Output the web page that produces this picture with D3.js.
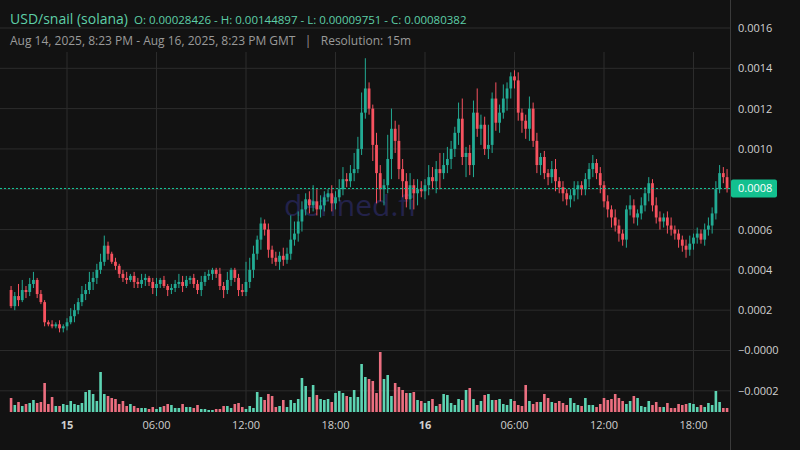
<!DOCTYPE html>
<html><head><meta charset="utf-8">
<script src="https://cdn.jsdelivr.net/npm/d3@7"></script>
<style>body{margin:0;background:#121212;}svg{display:block;font-family:"Open Sans",sans-serif;}</style>
</head><body><svg id="c" width="800" height="450"></svg>
<script>
// prices in units of 1e-5
const closes=[22,27,25,30,29,33,35,28, 24,14,13, 12,13,11,12,14, 17,20,24,28,30,34,36,40,44, 52,48,44,42,
38,36,35,37,34,33,35,36,34,31,33,35, 32,30,31,33,34,32,35,36,33,30, 34,37,38,40,38,32,30,35, 40,36,30,29,
34,40,48,55,63,60, 50,46,44,47,45,48, 55,58,64,70,75,72, 74,70,72,76,78,73,76,80, 85,84,88,90,100,118,130,
120,102,88,80, 82,95,110,104,90,84, 75,82,78,80,79, 82,86,84,90,88,92,95, 100,108,115,96,98,92,
118,110,112,100,102,125,113,118, 125,130,136,134,118,114, 110,120,104,92,96,88, 86,90,84,81,
78,75,77,80,82,80, 85,90,93,88,82, 74,70,66,62,58, 55,70,72,66,68, 72,78,83,72,66, 64,66,62,60,58,
55,52,50,53,56, 58,55,60,62,68, 80,88,86,80.382];
const firstOpen=30;
const wickUp=[2,2,6,5,2,3,4,1,2,1, 1,2,1,2,1,2,4,3,2,4, 3,5,3,3,4,5,2,1,2,1, 2,3,1,2,2,3,2,1,2,3, 1,2,1,2,2,4,3,2,1,2,
2,3,2,2,1,1,3,2,4,1, 1,2,3,10,6,4,2,3,2,3, 2,3,2,4,3,12,6,5,4,3, 4,8,6,5,3,2,4,3,5,6, 3,4,8,6,10,15,3,2,6,4,
3,12,10,4,8,5,4,6,3,5, 4,3,6,5,4,8,6,6,4,3, 8,10,3,4,6,12,5,4,10,3, 8,4,7,3,2,3,4,2,3,6, 3,4,2,3,2,4,5,2,3,2,
3,4,2,2,3,3,4,2,3,2, 3,2,4,3,2,2,5,3,2,4, 3,3,2,4,3,2,3,4,2,2, 2,3,4,2,3,2,3,4,3,4, 4,3,4];
const wickDn=[1,2,3,1,3,2,2,2,1,2, 1,1,1,2,2,2,1,3,2,2, 3,2,4,3,2,2,3,1,2,2, 2,2,1,3,2,2,3,2,3,4, 2,1,3,2,2,2,3,1,2,2,
2,3,2,2,3,2,2,4,2,3, 2,3,2,2,3,4,3,5,3,4, 3,2,4,3,2,3,3,4,5,3, 4,3,3,4,3,2,4,3,2,3, 3,3,4,2,3,3,3,8,15,6,
8,4,10,6,5,8,4,5,8,6, 3,4,5,4,6,8,3,4,5,4, 6,4,10,5,6,4,8,3,5,4, 4,5,3,6,5,4,4,6,5,6, 3,4,5,3,4,3,5,3,4,3,
4,3,5,3,3,4,4,3,4,3, 4,5,3,4,3,4,3,3,4,3, 3,4,3,3,4,3,4,3,3,4, 3,4,3,3,3,2,3,3,4,3, 2,3,2];
const volumes=[14,7,10,6,8,9,12,9,10,29, 8,15,6,6,8,7,11,8,7,9, 20,22,18,11,40,18,16,14,13,8, 11,6,8,6,4,4,4,3,5,3,
5,6,8,7,4,4,8,5,5,4, 7,3,3,2,2,3,3,6,6,4, 8,9,5,3,6,4,20,15,12,18, 16,5,6,12,5,12,9,13,34,26,
15,27,17,13,12,13,10,19,21,19, 16,15,22,15,48,35,33,31,19,60, 33,37,16,29,25,
22,19,19,20,12,11,9, 11,13,6,8,18,17,9,7,13,12, 22,24,13,7,11,17,18,12,12,13, 8,7,13,11,7,6,27,11,8,10,
10,18,14,10,9,11,9,7,14,9, 7,6,14,7,7,5,8,14,12,13, 18,14,11,8,11,16,14,6,5,11, 7,10,5,5,9,4,4,8,7,8, 9,8,5,7,5,9,7,21,10,4,4];
const priceTicks=[160,140,120,100,80,60,40,20,0,-20];
const priceTickLabels=["0.0016","0.0014","0.0012","0.0010","0.0008","0.0006","0.0004","0.0002","\u22120.0000","\u22120.0002"];
const timeTicks=["2025-08-15T00:00","2025-08-15T06:00","2025-08-15T12:00","2025-08-15T18:00","2025-08-16T00:00","2025-08-16T06:00","2025-08-16T12:00","2025-08-16T18:00"];
const timeTickLabels=["15","06:00","12:00","18:00","16","06:00","12:00","18:00"];

const svg=d3.select("#c");
const W=730, volBase=412;
svg.append("rect").attr("width",800).attr("height",450).attr("fill","#121212");
const x=d3.scaleTime().domain([new Date("2025-08-15T00:00"),new Date("2025-08-16T00:00")]).range([67,425]);
const y=d3.scaleLinear().domain([-20,160]).range([390.8,28]);
const v=d3.scaleLinear().domain([0,60]).range([volBase,volBase-60]);
const t0=new Date("2025-08-14T20:15");
const data=closes.map((c,i)=>{const o=i?closes[i-1]:firstOpen;return{t:new Date(+t0+i*9e5),o,c,h:Math.max(o,c)+(wickUp[i]??2),l:Math.min(o,c)-(wickDn[i]??2),vol:volumes[i]??5};});
const green="#22ab94",red="#f7525f";

const g=svg.append("g");
priceTicks.forEach(p=>g.append("line").attr("x1",0).attr("x2",W).attr("y1",y(p)).attr("y2",y(p)).attr("stroke","#2c2c2c"));
timeTicks.forEach(t=>g.append("line").attr("x1",x(new Date(t))).attr("x2",x(new Date(t))).attr("y1",52).attr("y2",volBase).attr("stroke","#2c2c2c"));
svg.append("line").attr("x1",W+0.5).attr("x2",W+0.5).attr("y1",0).attr("y2",450).attr("stroke","#3a3a3a");

svg.append("text").attr("x",350).attr("y",216).attr("text-anchor","middle").attr("font-size",30).attr("fill","#23224a").text("defined.fi");

svg.append("g").selectAll("rect").data(data).join("rect")
 .attr("x",d=>x(d.t)-1.3).attr("width",2.6).attr("y",d=>v(d.vol)).attr("height",d=>volBase-v(d.vol))
 .attr("fill",d=>d.c>=d.o?"#5dd4b3":"#ec6f80");

const cg=svg.append("g").selectAll("g").data(data).join("g");
cg.append("line").attr("x1",d=>x(d.t)).attr("x2",d=>x(d.t)).attr("y1",d=>y(d.h)).attr("y2",d=>y(d.l)).attr("stroke",d=>d.c>=d.o?green:red).attr("stroke-width",1);
cg.append("rect").attr("x",d=>x(d.t)-1.4).attr("width",2.8).attr("y",d=>y(Math.max(d.o,d.c))).attr("height",d=>Math.max(1,Math.abs(y(d.o)-y(d.c))))
 .attr("fill",d=>d.c>=d.o?green:red);

const last=closes[closes.length-1];
svg.append("line").attr("x1",0).attr("x2",W).attr("y1",y(last)).attr("y2",y(last)).attr("stroke","#16c79a").attr("stroke-dasharray","2,2");

priceTicks.forEach((p,i)=>svg.append("text").attr("x",738).attr("y",y(p)+4).attr("font-size",11).attr("fill","#d0d0d0").text(priceTickLabels[i]));
svg.append("rect").attr("x",731).attr("y",y(last)-9).attr("width",46).attr("height",18).attr("rx",2).attr("fill","#13c08f");
svg.append("text").attr("x",738).attr("y",y(last)+4).attr("font-size",11).attr("fill","#fff").text("0.0008");

timeTicks.forEach((t,i)=>svg.append("text").attr("x",x(new Date(t))).attr("y",429).attr("text-anchor","middle")
 .attr("font-size",11).attr("font-weight",timeTickLabels[i].length<3?"bold":"normal").attr("fill","#d0d0d0").text(timeTickLabels[i]));

const h=svg.append("text").attr("x",10).attr("y",24).attr("fill","#5ecfa8");
h.append("tspan").attr("font-size",14).text("USD/snail (solana)");
h.append("tspan").attr("font-size",11.5).attr("dx",6).text("O: 0.00028426 - H: 0.00144897 - L: 0.00009751 - C: 0.00080382");
svg.append("text").attr("x",10).attr("y",45).attr("font-size",12).attr("fill","#9a9a9a").attr("xml:space","preserve")
 .text("Aug 14, 2025, 8:23 PM - Aug 16, 2025, 8:23 PM GMT   |   Resolution: 15m");
</script></body></html>
